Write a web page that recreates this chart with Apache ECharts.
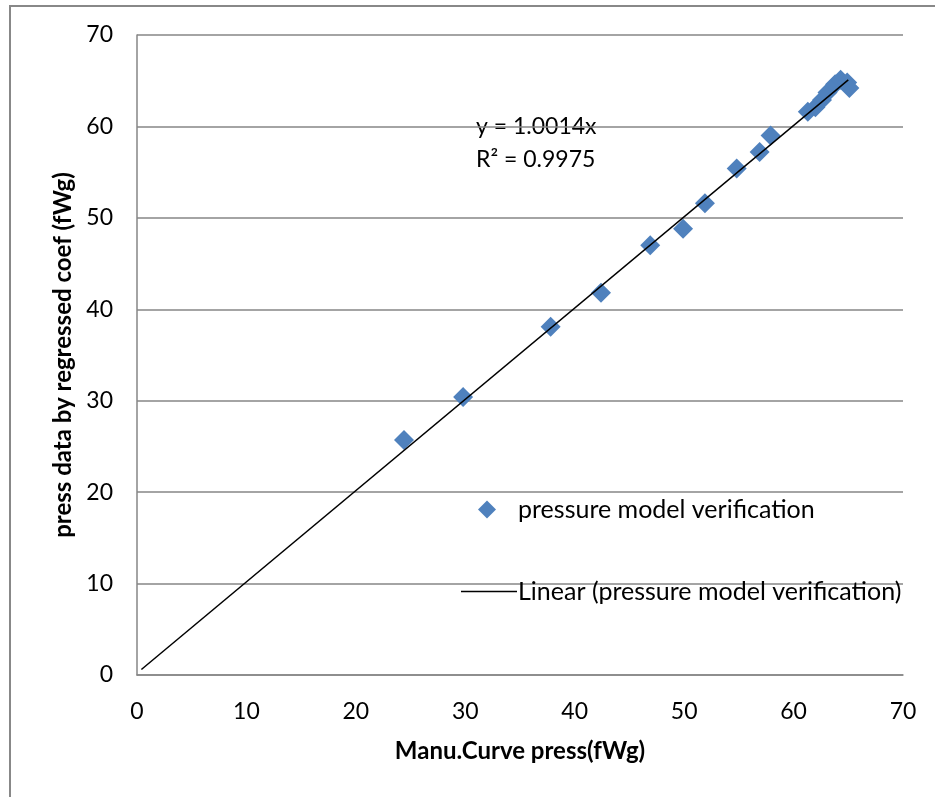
<!DOCTYPE html>
<html>
<head>
<meta charset="utf-8">
<script src="https://cdn.jsdelivr.net/npm/echarts@6/dist/echarts.min.js"></script>
<style>html,body{margin:0;padding:0;background:#fff}#c{width:935px;height:797px}</style>
</head>
<body>
<div id="c"></div>
<script>
var manuPress = [24.4, 29.8, 37.8, 42.4, 46.9, 49.9, 51.9, 54.8, 56.9, 57.9, 61.3, 62.0, 62.6, 63.1, 63.8, 64.3, 64.9, 65.1];
var regPress  = [25.7, 30.4, 38.1, 41.8, 47.0, 48.8, 51.6, 55.4, 57.2, 59.0, 61.6, 62.1, 62.9, 63.7, 64.6, 65.1, 64.8, 64.2];
var trendX = [0.4, 65.0];
var trendY = [0.6, 65.1];
var xTicks = [0, 10, 20, 30, 40, 50, 60, 70];
var yTicks = [0, 10, 20, 30, 40, 50, 60, 70];
var seriesName = 'pressure model verification';
var trendName = 'Linear (pressure model verification)';
var eqLines = ['y = 1.0014x', 'R² = 0.9975'];

var FONT = 'Lato';
var chart = echarts.init(document.getElementById('c'), null, {renderer: 'canvas'});
var pts = manuPress.map(function (x, i) { return [x, regPress[i]]; });
var tr = trendX.map(function (x, i) { return [x, trendY[i]]; });

chart.setOption({
  animation: false,
  backgroundColor: '#fff',
  textStyle: {fontFamily: FONT},
  grid: {left: 137, right: 32, top: 35, bottom: 122},
  xAxis: {
    type: 'value', min: xTicks[0], max: xTicks[xTicks.length - 1], interval: 10,
    name: 'Manu.Curve press(fWg)', nameLocation: 'middle', nameGap: 64,
    nameTextStyle: {fontFamily: FONT, fontSize: 24, fontWeight: 'bold', color: '#000'},
    axisLine: {show: true, onZero: false, lineStyle: {color: '#868686', width: 1.5}},
    axisTick: {show: false},
    axisLabel: {fontFamily: FONT, fontSize: 23, color: '#000', margin: 25},
    splitLine: {show: false}
  },
  yAxis: {
    type: 'value', min: yTicks[0], max: yTicks[yTicks.length - 1], interval: 10,
    name: 'press data by regressed coef (fWg)', nameLocation: 'middle', nameGap: 62,
    nameTextStyle: {fontFamily: FONT, fontSize: 24, fontWeight: 'bold', color: '#000'},
    axisLine: {show: true, lineStyle: {color: '#868686', width: 1.5}},
    axisTick: {show: false},
    axisLabel: {fontFamily: FONT, fontSize: 23, color: '#000', margin: 24},
    splitLine: {show: true, lineStyle: {color: '#868686', width: 1.5}}
  },
  legend: [
    {
      data: [{name: seriesName, icon: 'diamond'}],
      left: 478, top: 497, padding: 0, itemWidth: 18, itemHeight: 18, itemGap: 0,
      textStyle: {fontFamily: FONT, fontSize: 25, color: '#000', padding: [0, 0, 0, 17]}
    },
    {
      data: [{name: trendName, icon: 'rect'}],
      left: 461, top: 579, padding: 0, itemWidth: 56, itemHeight: 1.5,
      textStyle: {fontFamily: FONT, fontSize: 25, color: '#000', padding: [0, 0, 0, -4]}
    }
  ],
  series: [
    {
      name: seriesName, type: 'scatter', data: pts, symbol: 'diamond', symbolSize: 20,
      itemStyle: {color: '#4F81BD', opacity: 1}, z: 3
    },
    {
      name: trendName, type: 'line', data: tr, showSymbol: false, symbol: 'none',
      lineStyle: {color: '#000', width: 1.5}, itemStyle: {color: '#000'}, z: 4
    }
  ],
  graphic: [
    {type: 'rect', shape: {x: 10, y: 6, width: 1000, height: 900}, style: {fill: null, stroke: '#888', lineWidth: 2}, silent: true},
    {type: 'text', left: 476, top: 110, style: {text: eqLines.join('\n'), font: '23px ' + FONT, fill: '#000', lineHeight: 33}}
  ]
});
</script>
</body>
</html>
